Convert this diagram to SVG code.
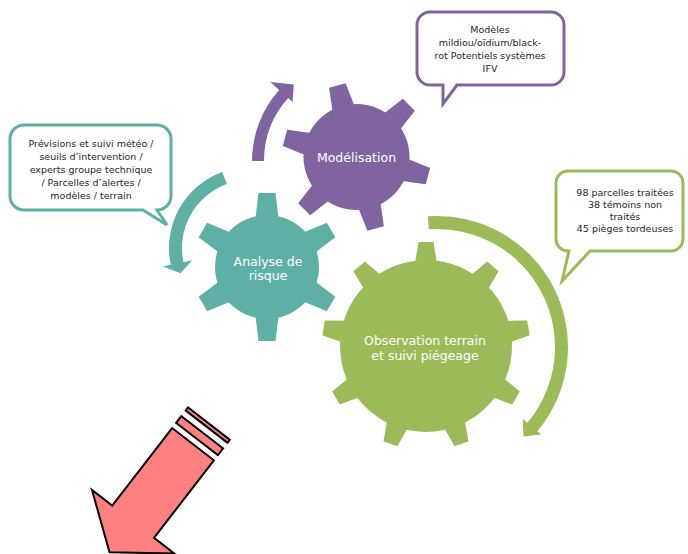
<svg xmlns="http://www.w3.org/2000/svg" xmlns:xlink="http://www.w3.org/1999/xlink" width="688" height="554" viewBox="0 0 688 554">
<style>
.purple{fill:#8064A2}
.teal{fill:#5EB0A5}
.green{fill:#9BBB59}
.glabel{font-family:"DejaVu Sans",Verdana,sans-serif;font-size:12.5px;fill:#FFFFFF;text-anchor:middle}
.clabel{font-family:"DejaVu Sans",Verdana,sans-serif;font-size:9.5px;fill:#262626;text-anchor:middle}
.callout{fill:#FFFFFF;stroke-width:3;stroke-linejoin:miter}
</style>
<defs>
<polygon id="toothS" points="-12,-45 -8.5,-74 8.5,-74 12,-45"/>
<polygon id="toothL" points="-11.5,-80 -7.5,-104 7.5,-104 11.5,-80"/>
</defs>
<rect width="688" height="554" fill="#FFFFFF"/>

<g id="connectors">
<path id="arrow-modelisation" class="purple" d="M 252,161 A 106 106 0 0 1 279.23,90.08 L 270.31,82.05 L 293.72,84.40 L 292.61,102.12 L 288.15,98.10 A 94 94 0 0 0 264,161 Z"/>
<path id="arrow-analyse" class="teal" d="M 222.30,171.88 A 81 81 0 0 0 170.77,264.84 L 162.95,266.50 L 180.46,273.31 L 192.29,260.27 L 183.49,262.14 A 68 68 0 0 1 226.74,184.10 Z"/>
<path id="arrow-observation" class="green" d="M 427.86,216.32 A 131 131 0 0 1 537.35,431.21 L 541.18,434.42 L 523.49,436.55 L 522.79,418.99 L 527.39,422.85 A 118 118 0 0 0 428.77,229.28 Z"/>
</g>

<g id="callout-modelisation">
<path class="callout" stroke="#8064A2" d="M 430,12 H 551 A 13 13 0 0 1 564,25 V 72 A 13 13 0 0 1 551,85 H 457 L 443,104 L 443,85 H 430 A 13 13 0 0 1 417,72 V 25 A 13 13 0 0 1 430,12 Z"/>
<text class="clabel" x="490" y="33">Modèles</text>
<text class="clabel" x="490" y="46">mildiou/oïdium/black-</text>
<text class="clabel" x="490" y="59">rot Potentiels systèmes</text>
<text class="clabel" x="490" y="72">IFV</text>
</g>

<g id="callout-analyse">
<path class="callout" stroke="#5EB0A5" d="M 24,125 H 157 A 14 14 0 0 1 171,139 V 196 A 14 14 0 0 1 157,210 L 167,225 L 143,210 H 24 A 14 14 0 0 1 10,196 V 139 A 14 14 0 0 1 24,125 Z"/>
<text class="clabel" x="91" y="146.5">Prévisions et suivi météo /</text>
<text class="clabel" x="91" y="159.5">seuils d’intervention /</text>
<text class="clabel" x="91" y="172.5">experts groupe technique</text>
<text class="clabel" x="91" y="185.5">/ Parcelles d’alertes /</text>
<text class="clabel" x="91" y="198.5">modèles / terrain</text>
</g>

<g id="callout-observation">
<path class="callout" stroke="#9BBB59" d="M 568,171 H 671 A 12 12 0 0 1 683,183 V 239 A 12 12 0 0 1 671,251 H 590 L 562,281 L 569,251 H 568 A 12 12 0 0 1 556,239 V 183 A 12 12 0 0 1 568,171 Z"/>
<text class="clabel" x="625" y="196">98 parcelles traitées</text>
<text class="clabel" x="625" y="208">38 témoins non</text>
<text class="clabel" x="625" y="220">traités</text>
<text class="clabel" x="625" y="232">45 pièges tordeuses</text>
</g>

<g id="gear-modelisation" class="purple">
<circle cx="356.5" cy="157" r="53"/>
<g transform="translate(356.5,157)">
<use xlink:href="#toothS" transform="rotate(-15)"/>
<use xlink:href="#toothS" transform="rotate(45)"/>
<use xlink:href="#toothS" transform="rotate(105)"/>
<use xlink:href="#toothS" transform="rotate(165)"/>
<use xlink:href="#toothS" transform="rotate(225)"/>
<use xlink:href="#toothS" transform="rotate(285)"/>
</g>
<text class="glabel" x="356.5" y="161.5">Modélisation</text>
</g>

<g id="gear-analyse" class="teal">
<circle cx="267" cy="267" r="52"/>
<g transform="translate(267,267)">
<use xlink:href="#toothS" transform="rotate(0)"/>
<use xlink:href="#toothS" transform="rotate(60)"/>
<use xlink:href="#toothS" transform="rotate(120)"/>
<use xlink:href="#toothS" transform="rotate(180)"/>
<use xlink:href="#toothS" transform="rotate(240)"/>
<use xlink:href="#toothS" transform="rotate(300)"/>
</g>
<text class="glabel" x="268" y="265.5">Analyse de</text>
<text class="glabel" x="268" y="280">risque</text>
</g>

<g id="gear-observation" class="green">
<circle cx="426" cy="346" r="86"/>
<g transform="translate(426,346)">
<use xlink:href="#toothL" transform="rotate(0)"/>
<use xlink:href="#toothL" transform="rotate(40)"/>
<use xlink:href="#toothL" transform="rotate(80)"/>
<use xlink:href="#toothL" transform="rotate(120)"/>
<use xlink:href="#toothL" transform="rotate(160)"/>
<use xlink:href="#toothL" transform="rotate(200)"/>
<use xlink:href="#toothL" transform="rotate(240)"/>
<use xlink:href="#toothL" transform="rotate(280)"/>
<use xlink:href="#toothL" transform="rotate(320)"/>
</g>
<text class="glabel" x="425" y="344.5">Observation terrain</text>
<text class="glabel" x="425" y="359.5">et suivi piégeage</text>
</g>

<g id="striped-arrow" transform="translate(208.9,423.6) rotate(127.67)" fill="#FF8080" stroke="#000000" stroke-width="2" stroke-linejoin="miter">
<rect x="0" y="-26.4" width="3.8" height="52.8"/>
<rect x="11" y="-26.4" width="8.5" height="52.8"/>
<polygon points="26,-26.4 124,-26.4 124,-52 162.6,0 124,52 124,26.4 26,26.4"/>
</g>
</svg>
